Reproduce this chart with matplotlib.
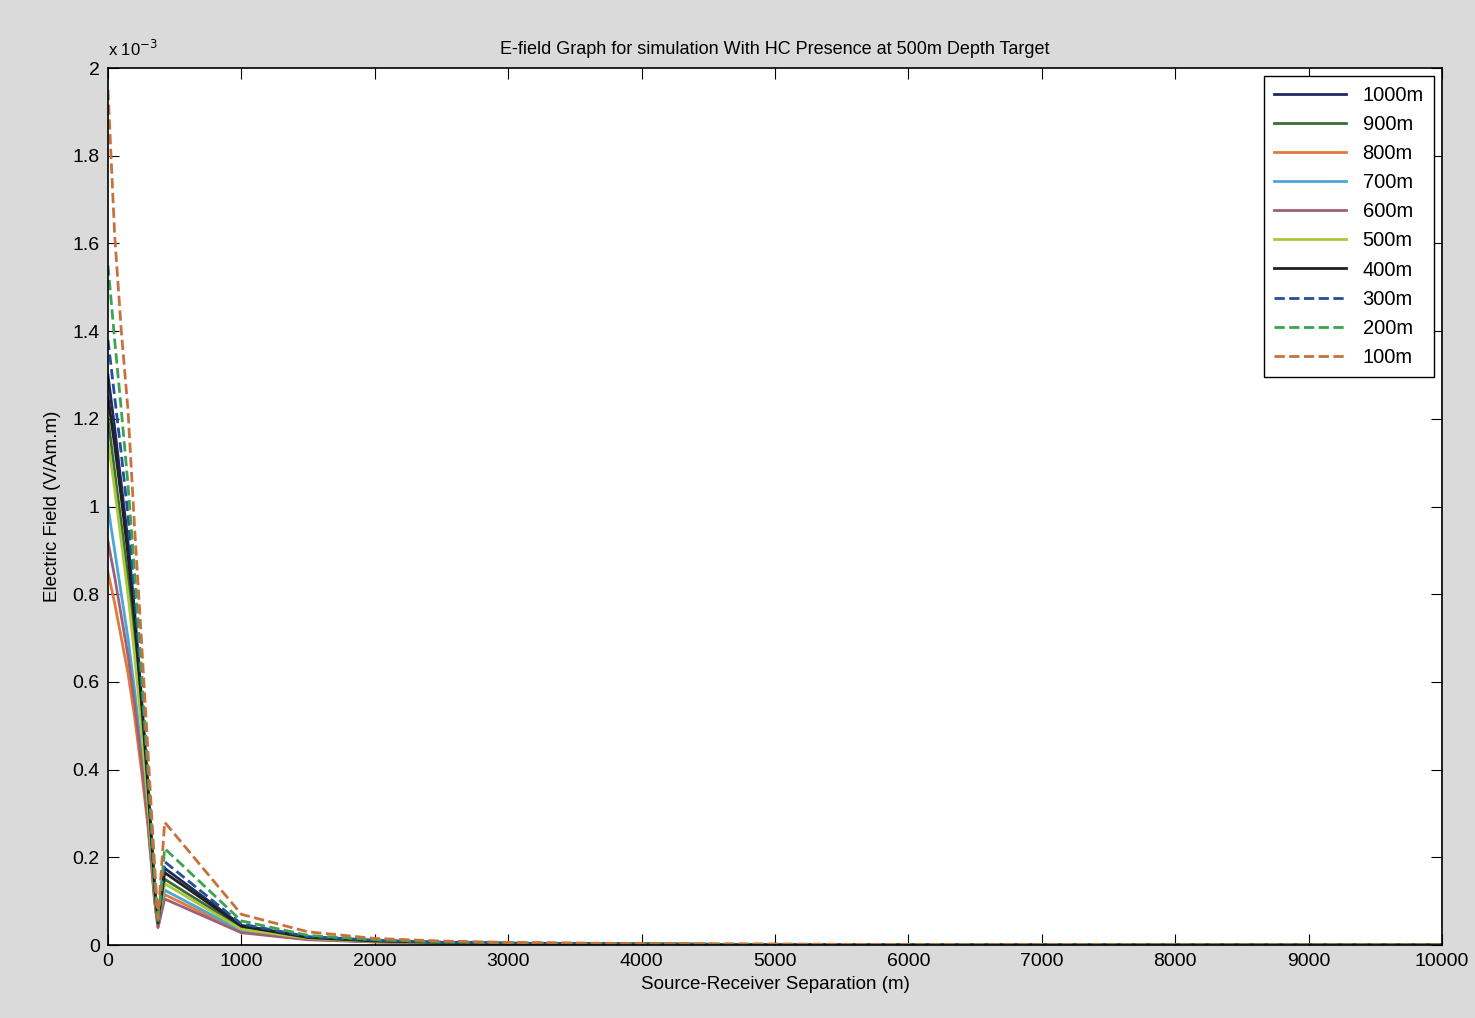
import matplotlib
matplotlib.use('Agg')
from matplotlib import pyplot as plt
from matplotlib.ticker import FuncFormatter

plt.rcParams['font.family'] = ['Liberation Sans', 'DejaVu Sans']

# source-receiver separation (m)
sep = [0, 50, 100, 150, 200, 250, 300, 350, 375, 425, 1000, 1500, 2000,
       2500, 3000, 4000, 5000, 6000, 7000, 8000, 9000, 10000]

# electric field, in units of 1e-3 V/Am.m
e1000 = [1.30, 1.18, 1.05, 0.92, 0.76, 0.57, 0.36, 0.13, 0.05, 0.175, 0.045, 0.018, 0.010, 0.006, 0.004, 0.002, 0.001, 0.001, 0.0005, 0.0005, 0.0003, 0.0003]
e900 = [1.20, 1.08, 0.96, 0.84, 0.70, 0.53, 0.34, 0.12, 0.05, 0.15, 0.040, 0.016, 0.009, 0.005, 0.003, 0.002, 0.001, 0.001, 0.0005, 0.0005, 0.0003, 0.0003]
e800 = [0.85, 0.78, 0.70, 0.62, 0.52, 0.40, 0.27, 0.10, 0.04, 0.115, 0.030, 0.013, 0.007, 0.004, 0.003, 0.002, 0.001, 0.001, 0.0005, 0.0005, 0.0003, 0.0003]
e700 = [1.00, 0.90, 0.80, 0.70, 0.58, 0.44, 0.29, 0.11, 0.045, 0.125, 0.033, 0.014, 0.008, 0.005, 0.003, 0.002, 0.001, 0.001, 0.0005, 0.0005, 0.0003, 0.0003]
e600 = [0.92, 0.84, 0.75, 0.66, 0.55, 0.42, 0.28, 0.10, 0.04, 0.105, 0.028, 0.012, 0.007, 0.004, 0.003, 0.002, 0.001, 0.001, 0.0005, 0.0005, 0.0003, 0.0003]
e500 = [1.15, 1.04, 0.92, 0.80, 0.66, 0.50, 0.32, 0.12, 0.05, 0.14, 0.036, 0.015, 0.008, 0.005, 0.003, 0.002, 0.001, 0.001, 0.0005, 0.0005, 0.0003, 0.0003]
e400 = [1.25, 1.14, 1.02, 0.89, 0.74, 0.56, 0.36, 0.13, 0.05, 0.165, 0.043, 0.017, 0.009, 0.006, 0.004, 0.002, 0.001, 0.001, 0.0005, 0.0005, 0.0003, 0.0003]
e300 = [1.38, 1.25, 1.12, 0.98, 0.80, 0.60, 0.38, 0.14, 0.05, 0.19, 0.048, 0.019, 0.011, 0.006, 0.004, 0.002, 0.001, 0.001, 0.0005, 0.0005, 0.0003, 0.0003]
e200 = [1.55, 1.38, 1.22, 1.05, 0.85, 0.63, 0.40, 0.15, 0.05, 0.22, 0.055, 0.022, 0.012, 0.007, 0.005, 0.003, 0.002, 0.001, 0.001, 0.0005, 0.0005, 0.0003]
e100 = [1.95, 1.62, 1.40, 1.22, 0.95, 0.70, 0.44, 0.18, 0.06, 0.28, 0.070, 0.030, 0.015, 0.009, 0.006, 0.003, 0.002, 0.001, 0.001, 0.0005, 0.0005, 0.0003]

series = [e1000, e900, e800, e700, e600, e500, e400, e300, e200, e100]
labels = ['1000m', '900m', '800m', '700m', '600m', '500m', '400m', '300m', '200m', '100m']
colors = ['#1e2a5e', '#3b6b36', '#e2793a', '#4ba6d6', '#9e6078', '#a9c93a',
          '#202020', '#22509c', '#3ba352', '#c9703c']
styles = ['-', '-', '-', '-', '-', '-', '-', '--', '--', '--']

fig = plt.figure(figsize=(14.75, 10.18), dpi=100, facecolor='#dadada')
ax = fig.add_axes([0.0732, 0.0717, 0.9044, 0.8615])
ax.set_facecolor('white')

for vals, lab, c, ls in zip(series, labels, colors, styles):
	ax.plot(sep, vals, ls, color=c, lw=2, label=lab)

ax.set_xlim(0, 10000)
ax.set_ylim(0, 2)
ax.set_xticks(range(0, 10001, 1000))
ax.set_yticks([0, 0.2, 0.4, 0.6, 0.8, 1.0, 1.2, 1.4, 1.6, 1.8, 2.0])
ax.yaxis.set_major_formatter(FuncFormatter(lambda v, p: '%g' % round(v, 1)))
ax.tick_params(direction='in', length=8, top=True, right=True, labelsize=14, pad=6)
for s in ax.spines.values():
	s.set_linewidth(1.2)

ax.set_title('E-field Graph for simulation With HC Presence at 500m Depth Target',
             fontsize=13, pad=10)
ax.set_xlabel('Source-Receiver Separation (m)', fontsize=13.5, labelpad=4)
ax.set_ylabel('Electric Field (V/Am.m)', fontsize=13.5, labelpad=8)
ax.text(0.0, 1.01, 'x 10$^{-3}$', transform=ax.transAxes, fontsize=12, va='bottom')

leg = ax.legend(loc='upper right', fontsize=14.5, fancybox=False, edgecolor='black',
                framealpha=1, handlelength=3.6, labelspacing=0.5, borderpad=0.5,
                borderaxespad=0.4)
leg.get_frame().set_linewidth(1.0)

plt.savefig('out.png', dpi=100, facecolor=fig.get_facecolor())
